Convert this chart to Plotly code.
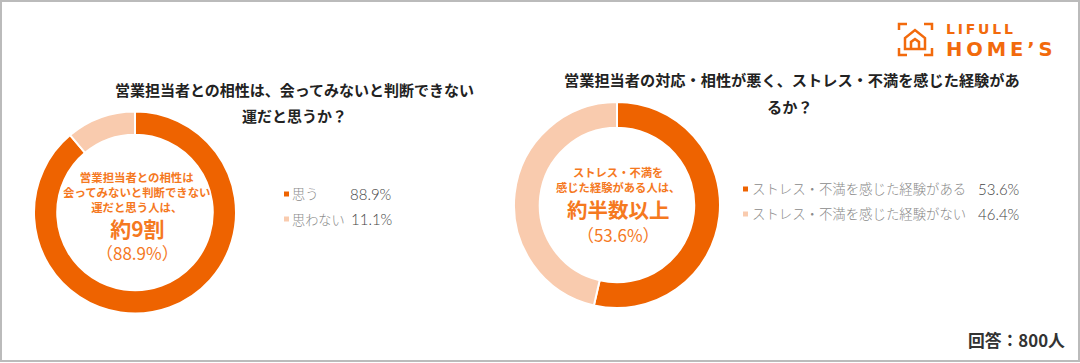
import plotly.graph_objects as go

W, H = 1080, 363
JP = "Noto Sans CJK JP"
ORANGE = "#EE6300"
PALE = "#F9CBAE"
TEXT_ORANGE = "#F5791F"
LOGO = "#F26A0C"

labels_a = ["思う", "思わない"]
values_a = [88.9, 11.1]
labels_b = ["ストレス・不満を感じた経験がある", "ストレス・不満を感じた経験がない"]
values_b = [53.6, 46.4]
title_a = ["営業担当者との相性は、会ってみないと判断できない", "運だと思うか？"]
title_b = ["営業担当者の対応・相性が悪く、ストレス・不満を感じた経験があ", "るか？"]
center_a = ["営業担当者との相性は", "会ってみないと判断できない", "運だと思う人は、"]
center_b = ["ストレス・不満を", "感じた経験がある人は、"]
head_a, sub_a = "約9割", "（88.9%）"
head_b, sub_b = "約半数以上", "（53.6%）"
footer = "回答：800人"
logo_top = "L\u2009I\u2009F\u2009U\u2009L\u2009L"
logo_bottom = "H\u2009O\u2009M\u2009E\u2009’\u2009S"


def px(x):
    return x / W


def py(y):
    return 1 - y / H


def dom(cx, cy, r):
    return dict(x=[px(cx - r), px(cx + r)], y=[py(cy + r), py(cy - r)])


def txt(x, y, s, size, color="#333333", bold=False, anchor="center", family=JP, weight=None):
    font = dict(family=family, size=size, color=color)
    if weight:
        font["weight"] = weight
    return dict(
        x=px(x), y=py(y), xref="paper", yref="paper", text=f"<b>{s}</b>" if bold else s,
        showarrow=False, xanchor=anchor, yanchor="middle", borderpad=0, font=font,
    )


def headline(head, sub, head_size, sub_size):
    return (f'<span style="font-size:{head_size}px;font-weight:bold">{head}</span><br>'
            f'<span style="font-size:{sub_size}px">{sub}</span>')


def path(points, close=False, color=LOGO, width=2.5):
    d = "M" + " L".join(f"{px(x):.5f},{py(y):.5f}" for x, y in points) + (" Z" if close else "")
    return dict(type="path", xref="paper", yref="paper", path=d,
                line=dict(color=color, width=width))


def square(x, y, s, color):
    return dict(type="rect", xref="paper", yref="paper", x0=px(x), x1=px(x + s),
                y0=py(y + s / 2), y1=py(y - s / 2), fillcolor=color, line_width=0)


fig = go.Figure()
for labs, vals, cx, cy, r, hole in [
    (labels_a, values_a, 135, 212.5, 101, 0.77),
    (labels_b, values_b, 617, 205, 103, 0.75),
]:
    fig.add_trace(go.Pie(
        labels=labs, values=vals, hole=hole, sort=False, direction="clockwise", rotation=0,
        marker=dict(colors=[ORANGE, PALE], line=dict(color="white", width=2)),
        textinfo="none", hoverinfo="label+percent", showlegend=False, domain=dom(cx, cy, r),
    ))

ann = [
    txt(294, 89, title_a[0], 15, "#222222", True),
    txt(294, 115, title_a[1], 15, "#222222", True),
    txt(792, 79, title_b[0], 15.2, "#222222", True),
    txt(790, 106, title_b[1], 15.2, "#222222", True),
    txt(137, 192, "<br>".join(center_a), 11.4, TEXT_ORANGE, True),
    txt(137, 239, headline(head_a, sub_a, 21, 17), 18, TEXT_ORANGE),
    txt(618, 179.5, "<br>".join(center_b), 11.3, TEXT_ORANGE, True),
    txt(618, 220, headline(head_b, sub_b, 20.5, 17), 18.5, TEXT_ORANGE),
    txt(291, 194, labels_a[0], 13.2, "#8A8A8A", anchor="left", weight=300),
    txt(291, 219, labels_a[1], 13.2, "#8A8A8A", anchor="left", weight=300),
    txt(392, 194, f"{values_a[0]}%", 15, "#444444", anchor="right", family="Lato", weight=300),
    txt(393, 219, f"{values_a[1]}%", 15, "#444444", anchor="right", family="Lato", weight=300),
    txt(751, 188, labels_b[0], 13.4, "#8A8A8A", anchor="left", weight=300),
    txt(751, 213, labels_b[1], 13.4, "#8A8A8A", anchor="left", weight=300),
    txt(1020, 189, f"{values_b[0]}%", 15, "#444444", anchor="right", family="Lato", weight=300),
    txt(1020, 214, f"{values_b[1]}%", 15, "#444444", anchor="right", family="Lato", weight=300),
    txt(1066, 340, footer, 16.8, "#333333", True, anchor="right"),
    txt(945, 29, logo_top, 14, LOGO, True, "left", "DejaVu Sans"),
    txt(945, 49, logo_bottom, 19.5, LOGO, True, "left", "DejaVu Sans"),
]

shapes = [
    dict(type="rect", xref="paper", yref="paper", x0=px(1), x1=px(W - 1), y0=py(H - 2), y1=py(1),
         fillcolor="rgba(0,0,0,0)", line=dict(color="#BBBBBB", width=2)),
    square(284, 194, 5, ORANGE),
    square(284, 219, 5, PALE),
    square(743, 189, 5, ORANGE),
    square(743, 214, 5, PALE),
    path([(899, 30), (899, 24), (907, 24)]),
    path([(924, 24), (932, 24), (932, 30)]),
    path([(899, 48), (899, 55), (907, 55)]),
    path([(924, 55), (932, 55), (932, 48)]),
    path([(905, 49), (905, 38), (915, 30), (925, 38), (925, 49)], close=True),
    path([(911, 49), (911, 42), (915, 39), (919, 42), (919, 49)]),
]

fig.update_layout(
    width=W, height=H, margin=dict(l=0, r=0, t=0, b=0), paper_bgcolor="white",
    annotations=ann, shapes=shapes,
)
fig.write_html("out.html", config=dict(displayModeBar=False),
               post_script="document.body.style.margin='0';")
